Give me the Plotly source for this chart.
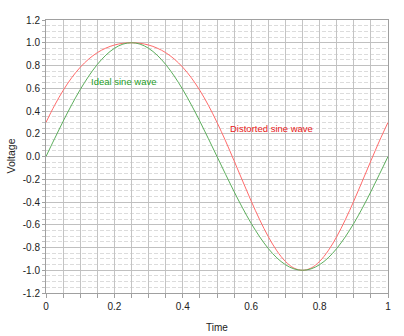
import plotly.graph_objects as go

# Time samples (step 0.025)
time = [0.0, 0.025, 0.05, 0.075, 0.1, 0.125, 0.15, 0.175, 0.2, 0.225, 0.25,
        0.275, 0.3, 0.325, 0.35, 0.375, 0.4, 0.425, 0.45, 0.475, 0.5,
        0.525, 0.55, 0.575, 0.6, 0.625, 0.65, 0.675, 0.7, 0.725, 0.75,
        0.775, 0.8, 0.825, 0.85, 0.875, 0.9, 0.925, 0.95, 0.975, 1.0]

ideal = [0.0, 0.156, 0.309, 0.454, 0.588, 0.707, 0.809, 0.891, 0.951, 0.988, 1.0,
         0.988, 0.951, 0.891, 0.809, 0.707, 0.588, 0.454, 0.309, 0.156, 0.0,
         -0.156, -0.309, -0.454, -0.588, -0.707, -0.809, -0.891, -0.951, -0.988, -1.0,
         -0.988, -0.951, -0.891, -0.809, -0.707, -0.588, -0.454, -0.309, -0.156, 0.0]

distorted = [0.30, 0.449, 0.580, 0.692, 0.784, 0.857, 0.913, 0.953, 0.980, 0.995, 1.0,
             0.995, 0.980, 0.953, 0.913, 0.857, 0.784, 0.692, 0.580, 0.449, 0.30,
             0.137, -0.038, -0.216, -0.392, -0.557, -0.705, -0.829, -0.922, -0.981, -1.0,
             -0.981, -0.922, -0.829, -0.705, -0.557, -0.392, -0.216, -0.038, 0.137, 0.30]

x_ticks = [0, 0.2, 0.4, 0.6, 0.8, 1]
x_tick_labels = ["0", "0.2", "0.4", "0.6", "0.8", "1"]
y_ticks = [-1.2, -1.0, -0.8, -0.6, -0.4, -0.2, 0.0, 0.2, 0.4, 0.6, 0.8, 1.0, 1.2]
y_tick_labels = ["-1.2", "-1.0", "-0.8", "-0.6", "-0.4", "-0.2", "0.0",
                 "0.2", "0.4", "0.6", "0.8", "1.0", "1.2"]

# grid positions (every 0.05)
x_grid = [round(i * 0.05, 2) for i in range(21)]
y_minor = [round(-1.2 + i * 0.05, 2) for i in range(49)]
label_map = {round(v, 2): t for v, t in zip(x_ticks, x_tick_labels)}
x_grid_text = [label_map.get(v, "") for v in x_grid]

FONT = "Liberation Sans, Arial, sans-serif"

fig = go.Figure()
fig.add_trace(go.Scatter(x=time, y=distorted, mode="lines", line_shape="spline",
                         line=dict(color="#ff6b6b", width=1), name="Distorted sine wave"))
fig.add_trace(go.Scatter(x=time, y=ideal, mode="lines", line_shape="spline",
                         line=dict(color="#5cae5c", width=1), name="Ideal sine wave"))

fig.add_annotation(x=0.126, y=0.656, xref="x", yref="y", text="Ideal sine wave",
                   showarrow=False, xanchor="left", yanchor="middle",
                   font=dict(family=FONT, size=9.5, color="#1f9e1f"))
fig.add_annotation(x=0.531, y=0.242, xref="x", yref="y", text="Distorted sine wave",
                   showarrow=False, xanchor="left", yanchor="middle",
                   font=dict(family=FONT, size=9.5, color="#e81818"))

# axis titles as annotations for exact placement
fig.add_annotation(x=0.5, y=0, xref="paper", yref="paper", text="Time",
                   showarrow=False, xanchor="center", yanchor="middle", yshift=-34,
                   font=dict(family=FONT, size=10, color="#222222"))
fig.add_annotation(x=0, y=0.5, xref="paper", yref="paper", text="Voltage",
                   showarrow=False, xanchor="center", yanchor="middle", xshift=-36,
                   textangle=-90,
                   font=dict(family=FONT, size=10.5, color="#222222"))

fig.update_layout(
    width=404, height=336,
    margin=dict(l=46, r=16, t=20, b=43, autoexpand=False),
    paper_bgcolor="white", plot_bgcolor="white",
    showlegend=False,
    font=dict(family=FONT, size=10, color="#222222"),
)
fig.update_xaxes(
    range=[0, 1], tickmode="array", tickvals=x_grid, ticktext=x_grid_text,
    showgrid=True, gridcolor="#c4c4c4", gridwidth=1,
    ticks="outside", ticklen=4, tickcolor="#a0a0a0",
    showline=True, linecolor="#a0a0a0", linewidth=1, mirror=True,
    zeroline=False, automargin=False,
    tickfont=dict(family=FONT, size=10, color="#222222"),
)
fig.update_yaxes(
    range=[-1.2, 1.2], tickmode="array", tickvals=y_ticks, ticktext=y_tick_labels,
    showgrid=True, gridcolor="#c0c0c0", gridwidth=1,
    minor=dict(tickmode="array", tickvals=y_minor, showgrid=True,
               gridcolor="#dcdcdc", gridwidth=1,
               griddash="4px,2px", ticks="outside", ticklen=3, tickcolor="#c0c0c0"),
    ticks="outside", ticklen=3, tickcolor="#a0a0a0",
    showline=True, linecolor="#a0a0a0", linewidth=1, mirror=True,
    zeroline=False, automargin=False,
    tickfont=dict(family=FONT, size=10, color="#222222"),
)

fig.write_html("out.html")
